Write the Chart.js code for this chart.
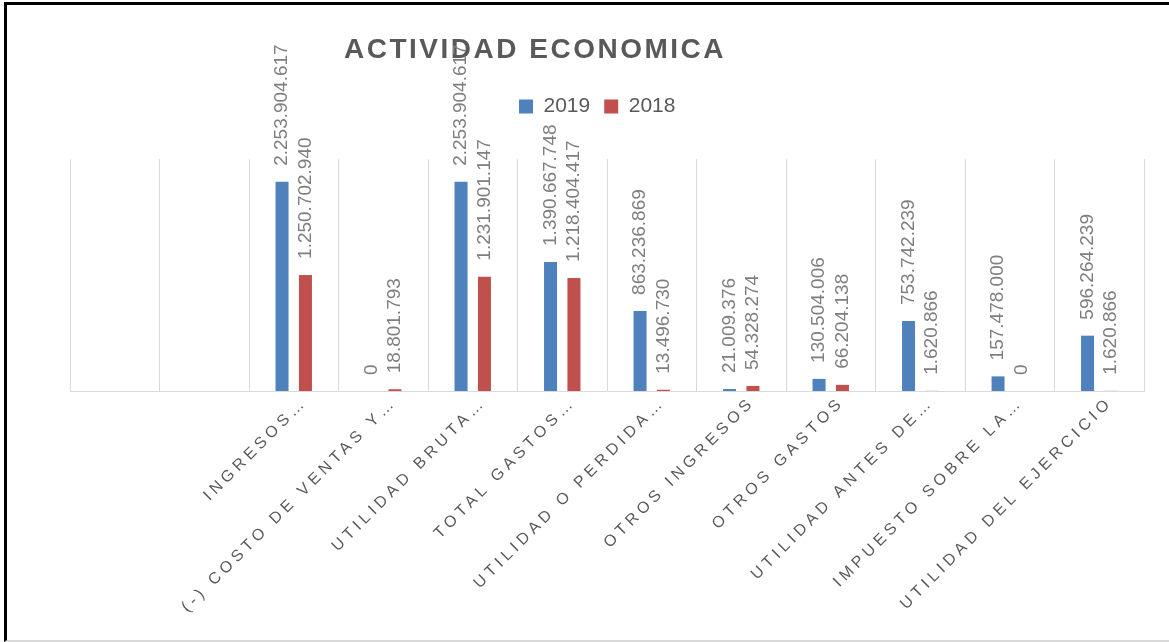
<!DOCTYPE html>
<html>
<head>
<meta charset="utf-8">
<script src="https://cdn.jsdelivr.net/npm/chart.js@4.4.0/dist/chart.umd.min.js"></script>
<style>
html,body{margin:0;padding:0;background:#fff;}
#wrap{position:relative;width:1169px;height:642px;overflow:hidden;background:#fff;}
canvas{position:absolute;left:0;top:0;}
#frame{position:absolute;left:4px;top:2px;width:1200px;height:640px;box-sizing:border-box;border-top:3px solid #000;border-left:3px solid #000;border-bottom:2px solid #d9d9d9;pointer-events:none;}
</style>
</head>
<body>
<div id="wrap"><canvas id="c" width="1169" height="642"></canvas><div id="frame"></div></div>
<script>
const categories = ['', '', 'INGRESOS…', '(-) COSTO DE VENTAS Y…', 'UTILIDAD BRUTA…', 'TOTAL GASTOS…', 'UTILIDAD O PERDIDA…', 'OTROS INGRESOS', 'OTROS GASTOS', 'UTILIDAD ANTES DE…', 'IMPUESTO SOBRE LA…', 'UTILIDAD DEL EJERCICIO'];
const values2019 = [null, null, 2253904617, 0, 2253904617, 1390667748, 863236869, 21009376, 130504006, 753742239, 157478000, 596264239];
const values2018 = [null, null, 1250702940, 18801793, 1231901147, 1218404417, 13496730, 54328274, 66204138, 1620866, 0, 1620866];
const seriesNames = ['2019', '2018'];
const chartTitle = 'ACTIVIDAD ECONOMICA';
const yMin = 0;
const yMax = 2500000000;

const FONT = '"Liberation Sans", Arial, sans-serif';
const fmt = v => String(v).replace(/\B(?=(\d{3})+(?!\d))/g, '.');

const layoutTweaks = {
  id: 'layoutTweaks',
  beforeInit(chart) {
    const lg = chart.legend;
    if (lg) {
      const origFit = lg.fit;
      lg.fit = function () { origFit.call(this); this.height += 32; };
    }
    const tb = chart.titleBlock;
    if (tb) {
      const origDraw = tb.draw;
      tb.draw = function (...a) {
        const ctx = this.ctx; ctx.save(); ctx.letterSpacing = '2.5px';
        origDraw.apply(this, a); ctx.restore();
      };
    }
  },
  afterLayout(chart) {
    const tb = chart.titleBlock;
    if (tb) {
      const w = tb.right - tb.left;
      tb.left = 535 - w / 2; tb.right = 535 + w / 2;
    }
    const lg = chart.legend;
    if (lg && lg.lineWidths) {
      const pad = lg.options.labels.padding;
      const cur = (lg.left + pad + lg.right - lg.lineWidths[0]) / 2;
      const d = 519 - cur;
      lg.left += d; lg.right += d;
    }
  },
  beforeDraw(chart) {
    const sx = chart.scales.x;
    if (sx && !sx._spaced) {
      const orig = sx.drawLabels;
      sx.drawLabels = function (...a) {
        const ctx = this.ctx; ctx.save(); ctx.letterSpacing = '4.3px';
        orig.apply(this, a); ctx.restore();
      };
      sx._spaced = true;
    }
  }
};

const barLabels = {
  id: 'barLabels',
  afterDatasetsDraw(chart) {
    const ctx = chart.ctx;
    ctx.save();
    ctx.font = '19px ' + FONT;
    ctx.fillStyle = '#7f7f7f';
    ctx.textAlign = 'left';
    ctx.textBaseline = 'middle';
    chart.data.datasets.forEach((ds, di) => {
      const meta = chart.getDatasetMeta(di);
      meta.data.forEach((bar, i) => {
        const v = ds.data[i];
        if (v === null || v === undefined) return;
        const p = bar.getProps(['x', 'y'], true);
        ctx.save();
        ctx.translate(p.x, p.y - 16);
        ctx.rotate(-Math.PI / 2);
        ctx.fillText(fmt(v), 0, 0);
        ctx.restore();
      });
    });
    ctx.restore();
  }
};

new Chart(document.getElementById('c'), {
  type: 'bar',
  data: {
    labels: categories,
    datasets: [
      { label: seriesNames[0], data: values2019, backgroundColor: '#4f81bd', borderWidth: 0, categoryPercentage: 0.523, barPercentage: 0.556 },
      { label: seriesNames[1], data: values2018, backgroundColor: '#c0504d', borderWidth: 0, categoryPercentage: 0.523, barPercentage: 0.556 }
    ]
  },
  options: {
    responsive: false,
    animation: false,
    devicePixelRatio: 1,
    layout: { padding: { left: 70, right: 25, top: 0, bottom: 0 } },
    plugins: {
      title: {
        display: true, text: chartTitle, color: '#595959',
        font: { family: FONT, size: 28, weight: 'bold', lineHeight: 1.2 },
        padding: { top: 33.7, bottom: 14.7 }
      },
      legend: {
        display: true, position: 'top',
        labels: { boxWidth: 14, boxHeight: 14, padding: 14, color: '#595959', font: { family: FONT, size: 21 } }
      },
      tooltip: { enabled: false }
    },
    scales: {
      x: {
        grid: { display: true, color: '#d9d9d9', lineWidth: 1, drawTicks: false, offset: true },
        border: { display: true, color: '#d9d9d9', width: 1 },
        ticks: { autoSkip: false, minRotation: 45, maxRotation: 45, padding: 2, labelOffset: 11, color: '#595959', font: { family: FONT, size: 16 } },
        afterFit(s) { s.height = 251; }
      },
      y: { display: false, min: yMin, max: yMax }
    }
  },
  plugins: [layoutTweaks, barLabels]
});
</script>
</body>
</html>
